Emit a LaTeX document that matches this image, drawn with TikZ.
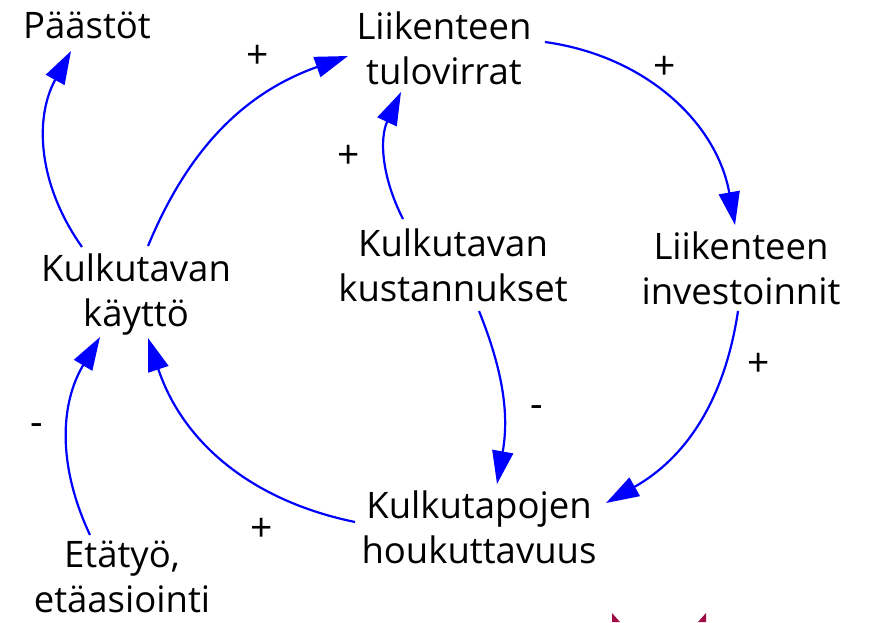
\documentclass[tikz,border=0pt]{standalone}
\usepackage{fontspec}
\setmainfont{Open Sans}
\usetikzlibrary{arrows.meta,calc}
\definecolor{linkblue}{RGB}{0,0,255}
\definecolor{logored}{RGB}{160,14,72}
\tikzset{
  var/.style={align=center,inner sep=0pt,font=\fontsize{36.5}{45}\selectfont},
  sign/.style={inner sep=0pt,font=\fontsize{39}{40}\selectfont},
  link/.style={draw=linkblue,line width=2.2pt,-{Triangle[length=33pt,width=21pt]}},
}
\begin{document}
\begin{tikzpicture}[x=1pt,y=-1pt]
\useasboundingbox (0,0) rectangle (871,622);
% variables
\node[var] (paastot) at (87,25) {Päästöt};
\node[var] (tulo) at (444,48) {Liikenteen\\tulovirrat};
\node[var] (kaytto) at (136,295) {Kulkutavan\\käyttö};
\node[var] (kust) at (453,265) {Kulkutavan\\kustannukset};
\node[var] (inv) at (741,268) {Liikenteen\\investoinnit};
\node[var] (houk) at (479,527) {Kulkutapojen\\houkuttavuus};
\node[var] (eta) at (122,577) {Etätyö,\\etäasiointi};
% links
\draw[link] ($(kaytto)+(-54,-48)$) to[bend left=32] ($(paastot)+(-16,26)$);
\draw[link] ($(kaytto)+(12,-49)$) to[bend left=24] ($(tulo)+(-96,8)$);
\draw[link] ($(kust)+(-50,-46)$) to[bend left=26] ($(tulo)+(-43,44)$);
\draw[link] ($(tulo)+(101,-6)$) to[bend left=36] ($(inv)+(-6,-43)$);
\draw[link] ($(inv)+(-3,43)$) to[bend left=26] ($(houk)+(127,-24)$);
\draw[link] ($(kust)+(26,46)$) to[bend left=16] ($(houk)+(18,-43)$);
\draw[link] ($(houk)+(-124,-5)$) to[bend left=30] ($(kaytto)+(12,43)$);
\draw[link] ($(eta)+(-32,-42)$) to[bend left=28] ($(kaytto)+(-36,42)$);
% polarity signs
\node[sign] (s1) at (258,57) {+};
\node[sign] (s2) at (665,68) {+};
\node[sign] (s3) at (349,157) {+};
\node[sign] (s4) at (759,365) {+};
\node[sign] (s5) at (537,412) {-};
\node[sign] (s6) at (37,430) {-};
\node[sign] (s7) at (262,530) {+};
% partial logo at bottom edge
\fill[logored] (612,613) -- (620,622) -- (612,622) -- cycle;
\fill[logored] (706,613) -- (706,622) -- (698,622) -- cycle;
\end{tikzpicture}
\end{document}
